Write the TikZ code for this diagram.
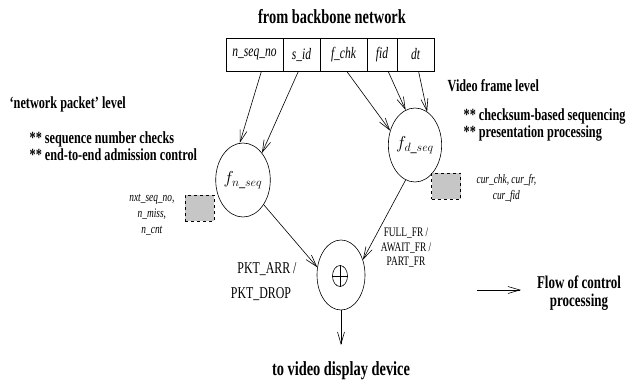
\documentclass[tikz,border=0pt]{standalone}
\usepackage{fontspec}
\setmainfont[FakeStretch=0.72]{Liberation Serif}
\usetikzlibrary{shapes.geometric,arrows.meta}
\tikzstyle{cell}=[shape=rectangle,
                draw=black,
                minimum height=33pt,
                inner sep=0pt,
                outer sep=0pt,
                font=\fontsize{16}{16}\selectfont\itshape]
\tikzstyle{fn}=[shape=ellipse,
                draw=black,
                minimum width=48pt,
                minimum height=74pt,
                inner sep=0pt,
                font=\fontsize{17}{17}\selectfont]
\tikzstyle{state}=[shape=rectangle,
                draw=black,
                dashed,
                fill=gray!45,
                minimum width=29pt,
                minimum height=26pt]
\tikzstyle{hd}=[font=\fontsize{20}{20}\selectfont\bfseries]
\tikzstyle{txt}=[font=\fontsize{17}{14}\selectfont\bfseries, align=left, anchor=west]
\tikzstyle{var}=[font=\fontsize{13}{16}\selectfont\itshape]
\tikzstyle{sig}=[font=\fontsize{16.5}{16}\selectfont]

\begin{document}
\begin{tikzpicture}[x=1pt,y=-1pt,>={Straight Barb[length=12pt,width=7pt]},semithick]
\useasboundingbox (0,0) rectangle (628,386);

% header fields
\node[hd] (src) at (332,17) {from backbone network};
\node[cell,minimum width=57pt] (nseq) at (254.5,54.5) {n\_seq\_no};
\node[cell,minimum width=37pt] (sid)  at (301.5,54.5) {s\_id};
\node[cell,minimum width=47pt] (fchk) at (343.5,54.5) {f\_chk};
\node[cell,minimum width=30pt] (fid)  at (382,54.5)   {fid};
\node[cell,minimum width=37pt] (dt)   at (415.5,54.5) {dt};

% functions
\node[fn] (fn) at (243,180) {$f_{n\_seq}$};
\node[fn] (fd) at (415,145) {$f_{d\_seq}$};
\node[fn,minimum width=48pt,minimum height=70pt] (comb) at (341,275) {};
\node[draw,ellipse,minimum width=15pt,minimum height=21pt,inner sep=0pt] (plus) at (340,276) {};
\draw (plus.west) -- (plus.east);
\draw (plus.north) -- (plus.south);

% state
\node[state] (sn) at (199.5,208) {};
\node[state] (sd) at (446,186) {};
\node[var,anchor=east,align=center] (snt) at (178,215) {nxt\_seq\_no,\\n\_miss,\\n\_cnt};
\node[var,anchor=west,align=center] (sdt) at (473,188) {cur\_chk, cur\_fr,\\cur\_fid};

% levels
\node[txt] (nl) at (6,104) {`network packet' level};
\node[txt] (nc) at (26,146) {** sequence number checks\\** end-to-end admission control};
\node[txt] (vl) at (444,86) {Video frame level};
\node[txt] (vc) at (460,125) {** checksum-based sequencing\\** presentation processing};

% signals
\node[sig] (pa) at (267,269) {PKT\_ARR /};
\node[sig] (pd) at (261,294) {PKT\_DROP};
\node[sig,align=center,font=\fontsize{13}{14.5}\selectfont] (ff) at (406,248) {FULL\_FR /\\AWAIT\_FR /\\PART\_FR};

% output
\coordinate (out) at (341,345);
\node[hd] (dst) at (341,371) {to video display device};

% legend
\coordinate (la) at (477,290);
\coordinate (lb) at (521,290);
\node[hd,align=center,font=\fontsize{18}{18}\selectfont\bfseries] (lt) at (579,293) {Flow of control\\processing};

% paths
\path[->] ([xshift=7pt]nseq.south) edge (fn.95);
\path[->] ([xshift=-3pt]sid.south) edge (fn.55);
\path[->] ([xshift=3pt]fchk.south) edge (fd.150);
\path[->] ([xshift=6pt]fid.south) edge (fd.105);
\path[->] ([xshift=3pt]dt.south) edge (fd.70);
\path[->] (fn.-50) edge (comb.162);
\path[->] (fd.-105) edge (comb.35);
\path[->] (comb.south) edge (out);
\path[->] (la) edge (lb);

\end{tikzpicture}
\end{document}
